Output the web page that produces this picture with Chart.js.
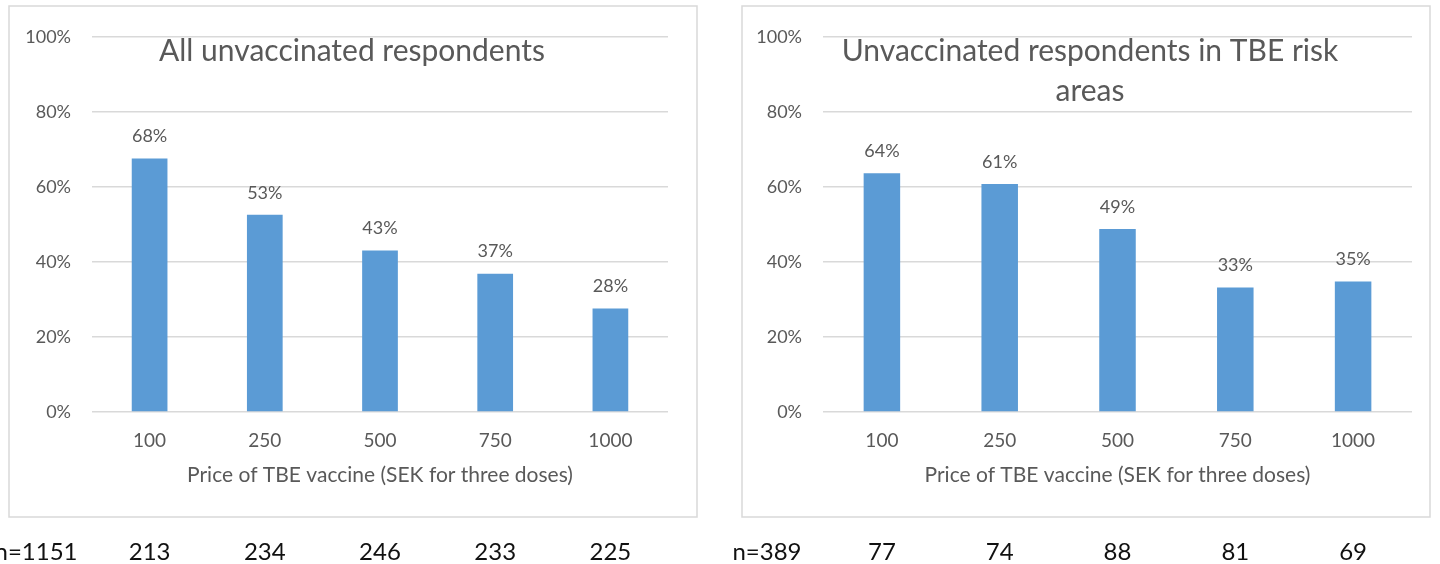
<!DOCTYPE html>
<html>
<head>
<meta charset="utf-8">
<script src="https://cdn.jsdelivr.net/npm/chart.js@4"></script>
<style>
  html, body { margin: 0; padding: 0; background: #fff; }
  #wrap { position: relative; width: 1440px; height: 564px; }
  .panel { position: absolute; top: 0; width: 720px; height: 564px; }
</style>
</head>
<body>
<div id="wrap">
  <div class="panel" style="left:0"><canvas id="allChart" width="720" height="564"></canvas></div>
  <div class="panel" style="left:720px"><canvas id="riskChart" width="720" height="564"></canvas></div>
</div>
<script>
// data
const prices = ['100', '250', '500', '750', '1000'];
const allShare = [67.6, 52.6, 43.1, 36.9, 27.6];
const riskShare = [63.7, 60.8, 48.8, 33.2, 34.8];
const allN = [213, 234, 246, 233, 225];
const riskN = [77, 74, 88, 81, 69];
const allTotal = 'n=1151';
const riskTotal = 'n=389';

const FONT = 'Lato, "Open Sans", sans-serif';
const GREY = '#595959';

// border, title, value labels and n row drawn on the canvas
const panelPlugin = {
  id: 'panel',
  beforeDraw(chart, args, opts) {
    const ctx = chart.ctx;
    ctx.save();
    ctx.strokeStyle = '#d9d9d9';
    ctx.lineWidth = 1.5;
    ctx.strokeRect(opts.box[0], opts.box[1], opts.box[2], opts.box[3]);
    ctx.restore();
  },
  afterDatasetsDraw(chart, args, opts) {
    const ctx = chart.ctx;
    const x = chart.scales.x;
    const area = chart.chartArea;
    ctx.save();
    // value labels
    ctx.fillStyle = GREY;
    ctx.font = '18px ' + FONT;
    ctx.textAlign = 'center';
    ctx.textBaseline = 'middle';
    chart.getDatasetMeta(0).data.forEach((bar, i) => {
      const v = chart.data.datasets[0].data[i];
      ctx.fillText(Math.round(v) + '%', bar.x, bar.y - 22);
    });
    // title
    ctx.font = '30px ' + FONT;
    opts.title.forEach((line, i) => {
      ctx.fillText(line, opts.titleX, 51 + i * 40);
    });
    // n row
    ctx.fillStyle = '#111';
    ctx.font = '24px ' + FONT;
    ctx.fillText(opts.total, area.left - 56, 552);
    opts.counts.forEach((n, i) => {
      ctx.fillText(String(n), x.getPixelForValue(i), 552);
    });
    ctx.restore();
  }
};

function makeChart(id, values, counts, total, title, titleX, padL, padR, box) {
  return new Chart(document.getElementById(id), {
    type: 'bar',
    data: {
      labels: prices,
      datasets: [{
        data: values,
        backgroundColor: '#5b9bd5',
        borderWidth: 0,
        barPercentage: 0.31,
        categoryPercentage: 1
      }]
    },
    options: {
      responsive: false,
      animation: false,
      layout: { padding: { left: padL, right: padR, top: 37, bottom: 72 } },
      scales: {
        x: {
          grid: { display: false, drawTicks: false },
          border: { display: false },
          ticks: { color: GREY, font: { family: FONT, size: 19 }, padding: 17 },
          title: {
            display: true,
            text: 'Price of TBE vaccine (SEK for three doses)',
            color: GREY,
            font: { family: FONT, size: 21 },
            padding: { top: 1, bottom: 4 }
          },
          afterFit(s) { s.height = 80; }
        },
        y: {
          min: 0,
          max: 100,
          grid: { color: '#d9d9d9', lineWidth: 1.5, drawTicks: false },
          border: { display: false },
          ticks: {
            stepSize: 20,
            color: GREY,
            font: { family: FONT, size: 18 },
            padding: 21,
            callback: v => v + '%'
          },
          afterFit(s) { s.width = 75; }
        }
      },
      plugins: {
        legend: { display: false },
        tooltip: { enabled: false },
        panel: { box, title, titleX, counts, total }
      }
    },
    plugins: [panelPlugin]
  });
}

makeChart('allChart', allShare, allN, allTotal,
  ['All unvaccinated respondents'], 352, 17, 52, [9, 6, 688, 511]);
makeChart('riskChart', riskShare, riskN, riskTotal,
  ['Unvaccinated respondents in TBE risk', 'areas'], 370, 28, 28, [22, 6, 688, 511]);
</script>
</body>
</html>
